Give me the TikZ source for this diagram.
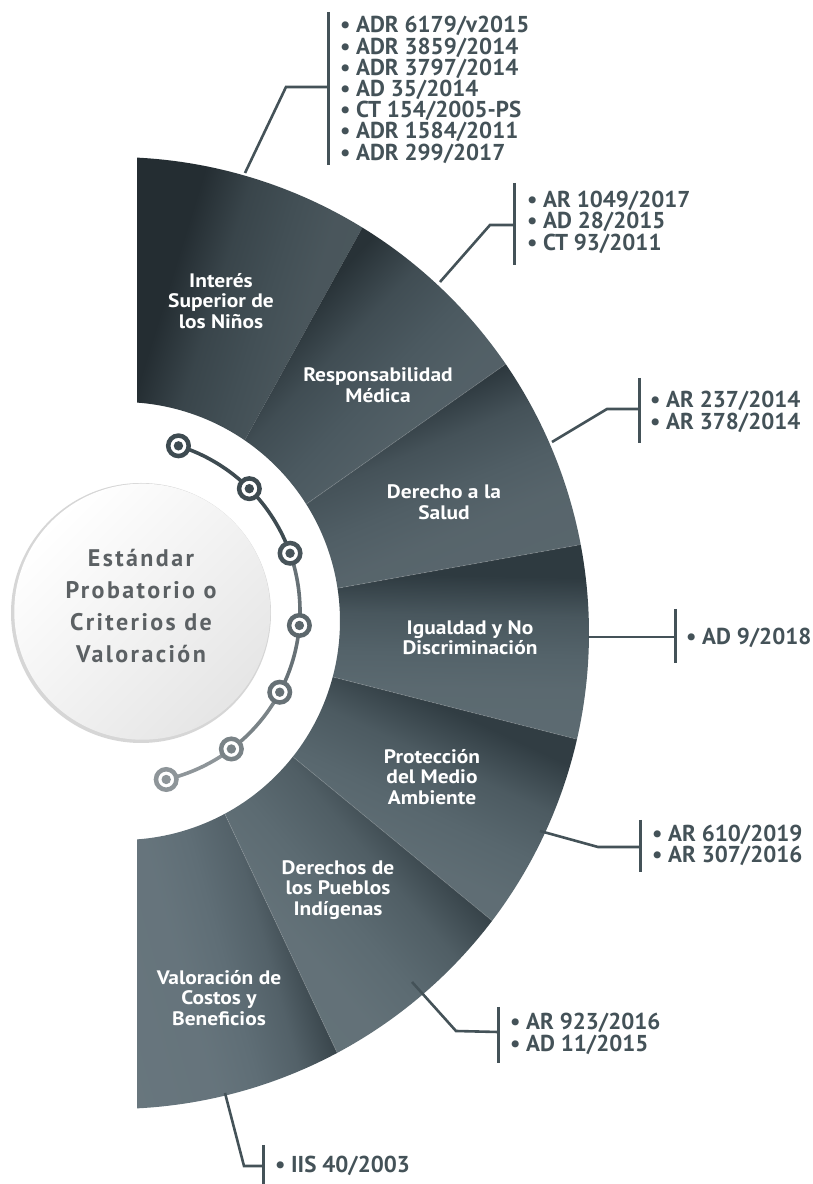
\documentclass[tikz,border=0pt]{standalone}
\usepackage{fontspec}
\setmainfont{PT Sans}
\newfontfamily\corefont{PT Sans}[LetterSpace=10]
\newfontfamily\lblfont{PT Sans}[FakeStretch=1.1]
\usetikzlibrary{calc}

% palette
\definecolor{ink}{RGB}{68,82,88}
\definecolor{coretext}{RGB}{92,97,100}
\definecolor{sAd}{RGB}{36,45,50}   \definecolor{sAl}{RGB}{66,79,85}
\definecolor{sBd}{RGB}{40,50,55}   \definecolor{sBl}{RGB}{75,89,96}
\definecolor{sCd}{RGB}{43,54,60}   \definecolor{sCl}{RGB}{80,94,101}
\definecolor{sDd}{RGB}{46,58,64}   \definecolor{sDl}{RGB}{84,99,106}
\definecolor{sEd}{RGB}{49,61,67}   \definecolor{sEl}{RGB}{88,103,110}
\definecolor{sFd}{RGB}{52,64,70}   \definecolor{sFl}{RGB}{92,107,114}
\definecolor{sGd}{RGB}{55,67,73}   \definecolor{sGl}{RGB}{95,110,118}
\definecolor{dA}{RGB}{62,75,81}
\definecolor{dB}{RGB}{62,75,81}
\definecolor{dC}{RGB}{72,84,90}
\definecolor{dD}{RGB}{92,103,108}
\definecolor{dE}{RGB}{103,113,118}
\definecolor{dF}{RGB}{122,131,135}
\definecolor{dG}{RGB}{142,149,153}

% one shading per sector: dark band on the leading edge, flat light body
\foreach \dk/\lt/\nm in {sAd/sAl/shA, sBd/sBl/shB, sCd/sCl/shC, sDd/sDl/shD, sEd/sEl/shE, sFd/sFl/shF, sGd/sGl/shG}{
  \colorlet{tmpdark}{\dk}\colorlet{tmplight}{\lt}
  \pgfdeclareverticalshading{\nm}{100bp}{%
    color(0bp)=(tmplight!93!white); color(38bp)=(tmplight!96!white);
    color(47bp)=(tmplight); color(57bp)=(tmplight!70!tmpdark);
    color(67bp)=(tmpdark); color(100bp)=(tmpdark)}
}

\newcommand{\bul}{\makebox[16pt][l]{\textbullet}}

\begin{document}
\begin{tikzpicture}[x=1pt,y=1pt,
  seclabel/.style={text=white, font=\lblfont\bfseries\fontsize{19.5}{20.5}\selectfont, align=center, inner sep=0pt},
  ref/.style={text=ink, font=\bfseries\fontsize{23}{23}\selectfont, inner sep=0pt, anchor=base west},
  lead/.style={draw=ink, line width=2.6pt, line join=miter},
  bar/.style={draw=ink, line width=3pt},
  ringdot/.style={circle, draw=#1, fill=white, line width=4.5pt, minimum size=20.5pt, inner sep=0pt},
  chain/.style={draw=#1, line width=3.6pt}
]
\useasboundingbox (0,0) rectangle (812,1184);

% centres of the outer and inner rims of the half ring
\coordinate (Oc) at (113,551);
\coordinate (Ic) at (121,563);
\def\Ro{476}
\def\Ri{219}

% the seven shaded sectors: outer start/end angle, inner start/end angle, shading
\foreach \ao/\bo/\ai/\bi/\sh [count=\k] in {
   87.1/58.4/85.8/55.6/shA,
   58.4/34.4/55.6/32.25/shB,
   34.4/10.7/32.25/8.6/shC,
   10.7/-12.9/8.6/-14.8/shD,
  -12.9/-37.2/-14.8/-38.3/shE,
  -37.2/-61.9/-38.3/-61.7/shF,
  -61.9/-87.1/-61.7/-85.8/shG}{
  \pgfmathsetmacro\midang{(\ao+\bo)/2}
  \shade[shading=\sh, shading angle=\midang]
    ($(Ic)+(\ai:\Ri pt)$) -- ($(Oc)+(\ao:\Ro pt)$)
    arc[start angle=\ao, end angle=\bo, radius=\Ro pt]
    -- ($(Ic)+(\bi:\Ri pt)$)
    arc[start angle=\bi, end angle=\ai, radius=\Ri pt] -- cycle;
}
% faint seams between neighbouring sectors
\foreach \ao/\ai in {34.4/32.25, 10.7/8.6, -12.9/-14.8, -37.2/-38.3, -61.9/-61.7}
  \draw[white, opacity=0.15, line width=0.8pt] ($(Ic)+(\ai:\Ri pt)$) -- ($(Oc)+(\ao:\Ro pt)$);

% sector titles
\node[seclabel] (tA) at (221,883) {Interés\\Superior de\\los Niños};
\node[seclabel] (tB) at (378,799) {Responsabilidad\\Médica};
\node[seclabel] (tC) at (444,682) {Derecho a la\\Salud};
\node[seclabel] (tD) at (470,546) {Igualdad y No\\Discriminación};
\node[seclabel] (tE) at (432,407) {Protección\\del Medio\\Ambiente};
\node[seclabel] (tF) at (338,294) {Derechos de\\los Pueblos\\Indígenas};
\node[seclabel] (tG) at (219,186) {Valoración de\\Costos y\\Beneficios};

% central disc
\fill[black!16] (141,571) circle (130pt);
\shade[top color=white, bottom color=black!10, shading angle=45]
  (142.3,572.3) circle (128pt);
\node[text=coretext, font=\corefont\bfseries\fontsize{24}{31.7}\selectfont, align=center, inner sep=0pt]
  (core) at (141,578) {Estándar\\Probatorio o\\Criterios de\\Valoración};

% chain of ring markers along the inner rim
\coordinate (Cc) at (127,573);
\foreach \a [count=\i] in {72.7,45,19.5,-4.8,-28,-52.9,-76.9}
  \coordinate (p\i) at ($(Cc)+(\a:173pt)$);
\draw[chain=dA] (p1) arc[start angle=72.7, end angle=45, radius=173pt];
\draw[chain=dB] (p2) arc[start angle=45, end angle=19.5, radius=173pt];
\draw[chain=dE] (p3) arc[start angle=19.5, end angle=-4.8, radius=173pt];
\draw[chain=dE] (p4) arc[start angle=-4.8, end angle=-28, radius=173pt];
\draw[chain=dF] (p5) arc[start angle=-28, end angle=-52.9, radius=173pt];
\draw[chain=dG] (p6) arc[start angle=-52.9, end angle=-76.9, radius=173pt];
\foreach \i/\c in {1/dA,2/dB,3/dC,4/dD,5/dE,6/dF,7/dG}{
  \node[ringdot=\c] (m\i) at (p\i) {};
  \fill[\c] (m\i.center) circle (4.7pt);
}

% reference lists with their leaders
% 1
\coordinate (e1) at (245,1011); \coordinate (k1) at (286,1097);
\coordinate (b1t) at (328,1172); \coordinate (b1b) at (328,1019); \coordinate (b1m) at (328,1097);
\draw[bar] (b1t) -- (b1b);
\draw[lead] (e1) -- (k1) -- (b1m);
\foreach \t [count=\i] in {ADR 6179/v2015, ADR 3859/2014, ADR 3797/2014, AD 35/2014, CT 154/2005-PS, ADR 1584/2011, ADR 299/2017}
  \node[ref] (r1-\i) at (340,{1151-(\i-1)*21.2}) {\bul\t};
% 2
\coordinate (e2) at (440,902); \coordinate (k2) at (490,959);
\coordinate (b2t) at (514,1001); \coordinate (b2b) at (514,919); \coordinate (b2m) at (514,959);
\draw[bar] (b2t) -- (b2b);
\draw[lead] (e2) -- (k2) -- (b2m);
\foreach \t [count=\i] in {AR 1049/2017, AD 28/2015, CT 93/2011}
  \node[ref] (r2-\i) at (527,{976.5-(\i-1)*21.5}) {\bul\t};
% 3
\coordinate (e3) at (552,742); \coordinate (k3) at (607,775);
\coordinate (b3t) at (639,806); \coordinate (b3b) at (639,741); \coordinate (b3m) at (639,775);
\draw[bar] (b3t) -- (b3b);
\draw[lead] (e3) -- (k3) -- (b3m);
\foreach \t [count=\i] in {AR 237/2014, AR 378/2014}
  \node[ref] (r3-\i) at (650,{776-(\i-1)*22}) {\bul\t};
% 4
\coordinate (e4) at (588,547);
\coordinate (b4t) at (675,575); \coordinate (b4b) at (675,521); \coordinate (b4m) at (675,547);
\draw[bar] (b4t) -- (b4b);
\draw[lead] (e4) -- (b4m);
\node[ref] (r4-1) at (686,539) {\bul AD 9/2018};
% 5
\coordinate (e5) at (540,353); \coordinate (k5) at (598,337);
\coordinate (b5t) at (640,364); \coordinate (b5b) at (640,312); \coordinate (b5m) at (640,337);
\draw[bar] (b5t) -- (b5b);
\draw[lead] (e5) -- (k5) -- (b5m);
\foreach \t [count=\i] in {AR 610/2019, AR 307/2016}
  \node[ref] (r5-\i) at (652,{342-(\i-1)*21}) {\bul\t};
% 6
\coordinate (e6) at (412,202); \coordinate (k6) at (456,153);
\coordinate (b6t) at (498,177); \coordinate (b6b) at (498,121); \coordinate (b6m) at (498,152);
\draw[bar] (b6t) -- (b6b);
\draw[lead] (e6) -- (k6) -- (b6m);
\foreach \t [count=\i] in {AR 923/2016, AD 11/2015}
  \node[ref] (r6-\i) at (510,{154-(\i-1)*22}) {\bul\t};
% 7
\coordinate (e7) at (225,91); \coordinate (k7) at (244,18);
\coordinate (b7t) at (263,39); \coordinate (b7b) at (263,0); \coordinate (b7m) at (263,18);
\draw[bar] (b7t) -- (b7b);
\draw[lead] (e7) -- (k7) -- (b7m);
\node[ref] (r7-1) at (275,12) {\bul IIS 40/2003};
\end{tikzpicture}
\end{document}
